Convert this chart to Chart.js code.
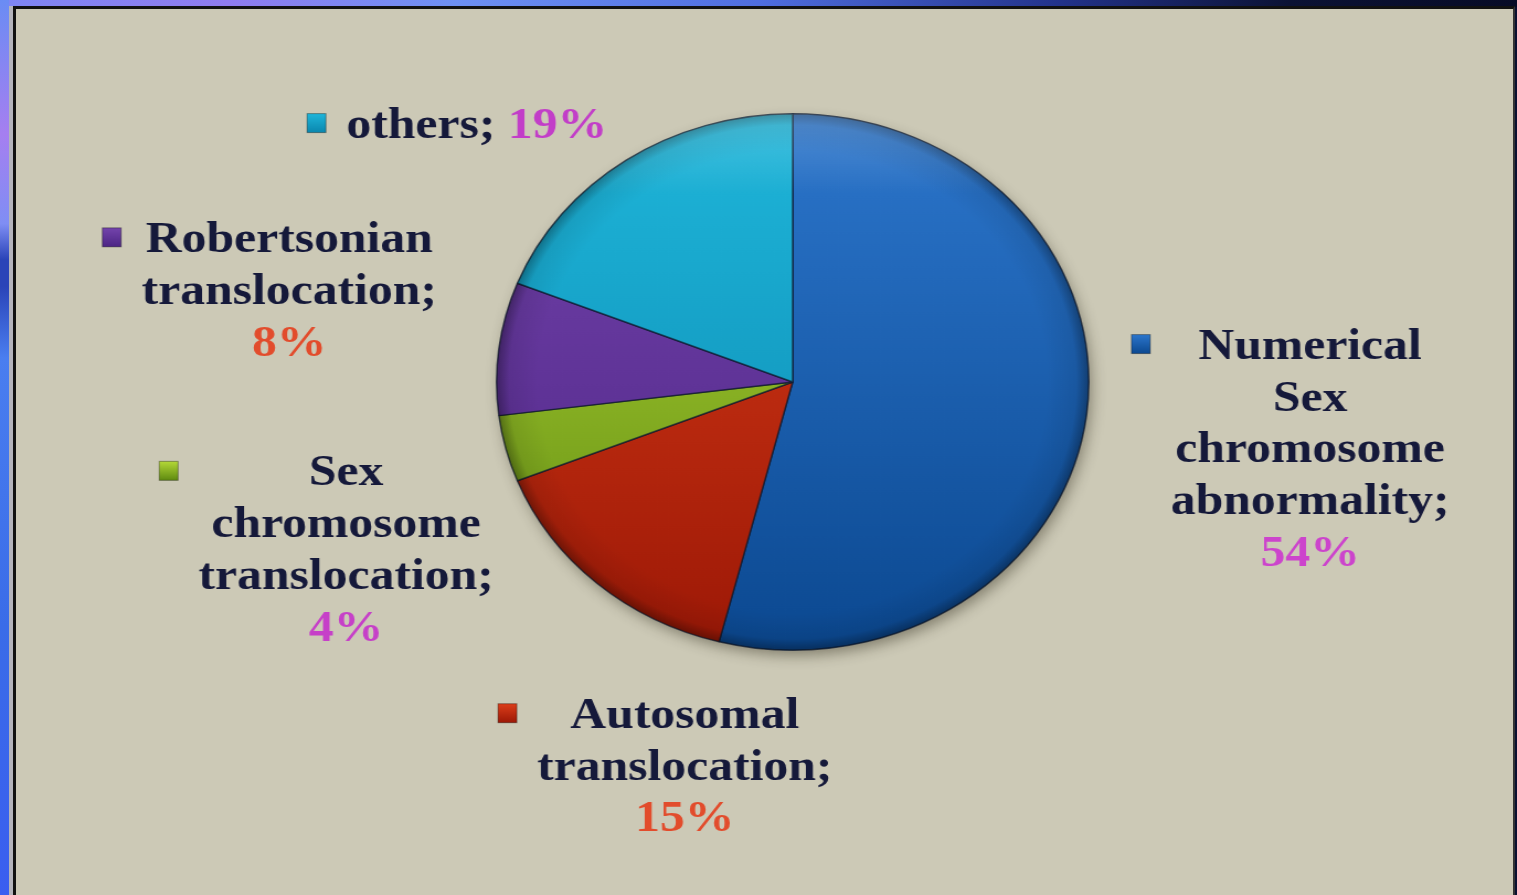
<!DOCTYPE html>
<html>
<head>
<meta charset="utf-8">
<script src="https://cdn.jsdelivr.net/npm/chart.js@4/dist/chart.umd.min.js"></script>
<style>
  html, body { margin: 0; padding: 0; width: 1517px; height: 895px; overflow: hidden; background: #0a1030; }
  #topstrip { position: absolute; left: 0; top: 0; width: 1517px; height: 7px;
    background: linear-gradient(to right, #7d86f4 0%, #8f7cf0 15%, #6d90f4 30%, #4f6ee0 50%, #22328a 70%, #0b1234 85%, #070b26 100%); }
  #leftstrip { position: absolute; left: 0; top: 0; width: 9px; height: 895px;
    background: linear-gradient(to bottom, #6a8cf4 0%, #a57ff0 15%, #7f8ef4 25%, #2a44b8 29%, #2a44b8 32%, #4a7ef0 40%, #3a6ce8 70%, #3a5ef0 100%); }
  #panel { position: absolute; left: 13px; top: 6px; width: 1497px; height: 886px;
    background: #ccc9b6; border-left: 3px solid #111; border-top: 3px solid #111; border-right: 2px solid #333;
    border-bottom: 2px solid #8a887c; box-shadow: -4px 0 0 #b3b3bb; }
  #chart { position: absolute; left: 0; top: 0; transform-origin: 0 0; transform: scaleX(1.104); }
</style>
</head>
<body>
<div id="topstrip"></div>
<div id="leftstrip"></div>
<div id="panel"></div>
<canvas id="chart" width="1374" height="895"></canvas>
<script>
// ---- data ----
const categories = [
  'Numerical Sex chromosome abnormality',
  'Autosomal translocation',
  'Sex chromosome translocation',
  'Robertsonian translocation',
  'others'
];
const values = [54, 15, 4, 8, 19];
const percentLabels = ['54%', '15%', '4%', '8%', '19%'];

// ---- styles / layout ----
const sliceTop    = ['#2c76cc', '#dc3e1a', '#b4d838', '#7444ac', '#1fb6da'];
const sliceBottom = ['#0b4890', '#9c1806', '#5e8a10', '#4c2484', '#0a86ae'];
const pctColors   = ['#cc44cc', '#e24c2c', '#c640c8', '#e24c2c', '#c23ec8'];
const textColor = '#15193a';
// label block centres, in units of the pie radius, relative to the pie centre
const labelPos = [[1.747, 0.243], [-0.364, 1.426], [-1.508, 0.619], [-1.700, -0.348], [-1.067, -0.967]];
const oneLine = [false, false, false, false, true];
const FONT = 'bold 45px "Liberation Serif", "Times New Roman", serif';
const LINE_H = 51.8;
const TEXT_DY = 3.5;

function sliceFill(ctx) {
  const chart = ctx.chart;
  const a = chart.chartArea;
  const i = ctx.dataIndex;
  if (!a) return sliceTop[i];
  const g = chart.ctx.createLinearGradient(0, a.top, 0, a.bottom);
  g.addColorStop(0, sliceTop[i]);
  g.addColorStop(1, sliceBottom[i]);
  return g;
}

const pieDecor = {
  id: 'pieDecor',
  beforeDatasetsDraw(chart) {
    const arc = chart.getDatasetMeta(0).data[0];
    if (!arc) return;
    const { x, y, outerRadius } = arc.getProps(['x', 'y', 'outerRadius'], true);
    const c = chart.ctx;
    c.save();
    c.shadowColor = 'rgba(40,35,20,0.45)';
    c.shadowBlur = 14;
    c.shadowOffsetX = 3;
    c.shadowOffsetY = 6;
    c.beginPath();
    c.arc(x, y, outerRadius - 1, 0, Math.PI * 2);
    c.fillStyle = '#3a4a60';
    c.fill();
    c.restore();
  },
  afterDatasetsDraw(chart) {
    const arc = chart.getDatasetMeta(0).data[0];
    if (!arc) return;
    const { x, y, outerRadius: r } = arc.getProps(['x', 'y', 'outerRadius'], true);
    const c = chart.ctx;
    c.save();
    const g = c.createRadialGradient(x, y, r * 0.86, x, y, r);
    g.addColorStop(0, 'rgba(0,0,0,0)');
    g.addColorStop(0.7, 'rgba(0,0,0,0.08)');
    g.addColorStop(1, 'rgba(0,0,0,0.35)');
    c.beginPath();
    c.arc(x, y, r, 0, Math.PI * 2);
    c.fillStyle = g;
    c.fill();
    const h = c.createLinearGradient(0, y - r, 0, y - r * 0.7);
    h.addColorStop(0, 'rgba(255,255,255,0.18)');
    h.addColorStop(1, 'rgba(255,255,255,0)');
    c.fillStyle = h;
    c.fill();
    c.restore();

    // data labels with legend keys
    c.save();
    c.font = FONT;
    c.textBaseline = 'middle';
    c.textAlign = 'left';
    categories.forEach((name, i) => {
      const lx = x + labelPos[i][0] * r;
      const ly = y + labelPos[i][1] * r + TEXT_DY;
      let lines;
      if (oneLine[i]) {
        lines = [[{ t: name + '; ', col: textColor }, { t: percentLabels[i], col: pctColors[i] }]];
      } else {
        const words = name.split(' ');
        lines = words.map((w, k) => [{ t: w + (k === words.length - 1 ? ';' : ''), col: textColor }]);
        lines.push([{ t: percentLabels[i], col: pctColors[i] }]);
      }
      const widths = lines.map(segs => segs.reduce((s, sg) => s + c.measureText(sg.t).width, 0));
      const maxW = Math.max(...widths);
      const y0 = ly - (lines.length - 1) * LINE_H / 2;
      lines.forEach((segs, k) => {
        let sx = lx - widths[k] / 2;
        const sy = y0 + k * LINE_H;
        segs.forEach(sg => {
          c.fillStyle = sg.col;
          c.fillText(sg.t, sx, sy);
          sx += c.measureText(sg.t).width;
        });
      });
      // legend key
      const mx = lx - maxW / 2 - 27;
      const my = y0 - 3;
      const kw = 17, kh = 19;
      const kg = c.createLinearGradient(0, my - kh / 2, 0, my + kh / 2);
      kg.addColorStop(0, sliceTop[i]);
      kg.addColorStop(1, sliceBottom[i]);
      c.fillStyle = kg;
      c.fillRect(mx - kw / 2, my - kh / 2, kw, kh);
      c.strokeStyle = 'rgba(0,0,0,0.35)';
      c.lineWidth = 1;
      c.strokeRect(mx - kw / 2, my - kh / 2, kw, kh);
    });
    c.restore();
  }
};

new Chart(document.getElementById('chart'), {
  type: 'pie',
  data: {
    labels: categories,
    datasets: [{
      data: values,
      backgroundColor: sliceFill,
      borderColor: 'rgba(15,25,45,0.7)',
      borderWidth: 1.5
    }]
  },
  options: {
    responsive: false,
    animation: false,
    layout: { padding: { top: 113, bottom: 244, left: 400, right: 338 } },
    plugins: {
      legend: { display: false },
      tooltip: { enabled: false },
      title: { display: false }
    }
  },
  plugins: [pieDecor]
});
</script>
</body>
</html>
